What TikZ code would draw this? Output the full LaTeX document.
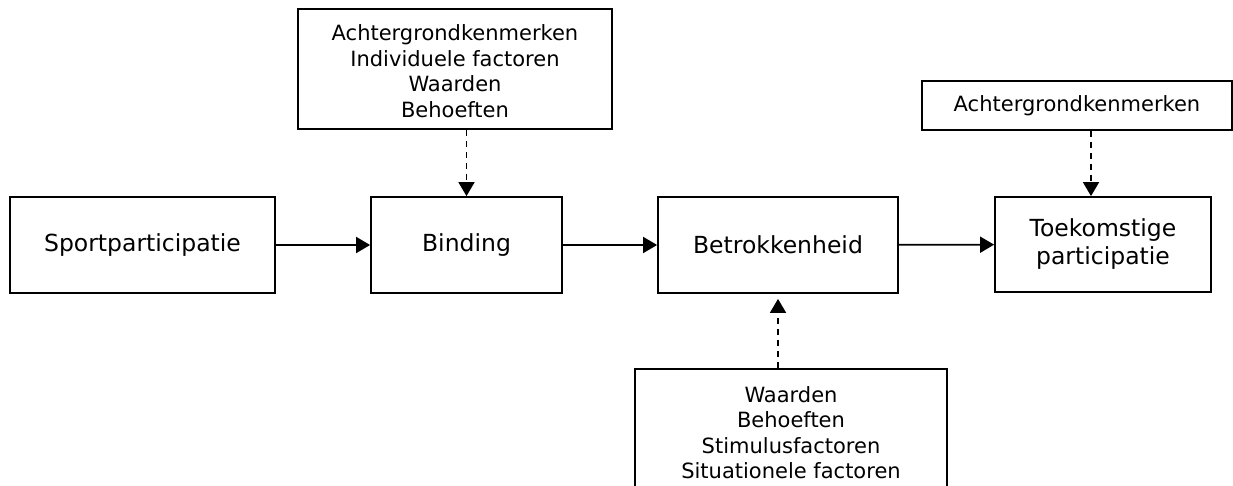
\documentclass[tikz,border=0pt]{standalone}
\usepackage{fontspec}
\setmainfont{DejaVu Sans}
\usepackage{tikz}
\usetikzlibrary{arrows.meta}

\begin{document}
\begin{tikzpicture}[x=1pt, y=-1pt,
			>={Triangle[length=14pt,width=16pt]},   %Pfeilspitzen
			block/.style={draw, line width=1.8pt, inner sep=0pt, align=center,
				font=\fontsize{23.5}{28}\selectfont},
			infobox/.style={draw, line width=1.8pt, inner sep=0pt, align=center,
				font=\fontsize{21}{25.5}\selectfont},
			pfeil/.style={->, line width=1.8pt},
			einfluss/.style={->, line width=1.8pt, dash pattern=on 6pt off 5pt}]
			%Bildbereich
			\useasboundingbox (0,0) rectangle (1233,486);
			% Hauptkette
			\node[block, minimum width=265pt, minimum height=96pt] (sport) at (142.5,245) {Sportparticipatie};
			\node[block, minimum width=191pt, minimum height=96pt] (binding) at (466.5,245) {Binding};
			\node[block, minimum width=240pt, minimum height=96pt] (betrok) at (778,245) {Betrokkenheid};
			\node[block, minimum width=216pt, minimum height=95pt] (toekomst) at (1103,244.5) {Toekomstige\\participatie};
			% Einflussfaktoren
			\node[infobox, minimum width=314pt, minimum height=120pt, text height=102pt, text depth=5pt] (factorsA) at (455,69) {Achtergrondkenmerken\\Individuele factoren\\Waarden\\Behoeften};
			\node[infobox, minimum width=310pt, minimum height=49pt] (factorsB) at (1077,105.5) {Achtergrondkenmerken};
			\node[infobox, minimum width=312pt, minimum height=127pt] (factorsC) at (791,432.5) {Waarden\\Behoeften\\Stimulusfactoren\\Situationele factoren};
			\coordinate (fussB) at ([xshift=14pt]factorsB.south);
			% Pfeile zeichnen
			\draw[pfeil] (sport) -- (binding);
			\draw[pfeil] (binding) -- (betrok);
			\draw[pfeil] (betrok) -- (toekomst);
			\draw[einfluss] (factorsA.south -| binding.north) -- (binding.north);
			\draw[einfluss] (fussB) -- (fussB |- toekomst.north);
			\draw[einfluss, shorten >=5pt] (factorsC.north -| betrok.south) -- (betrok.south);
		\end{tikzpicture}
\end{document}
